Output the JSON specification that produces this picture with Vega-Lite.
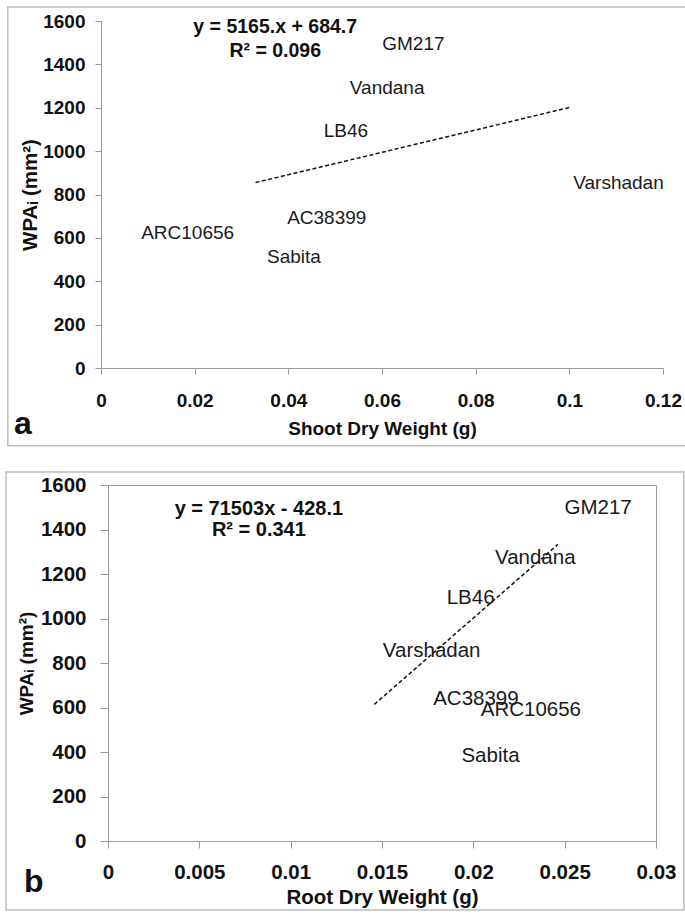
{
  "$schema": "https://vega.github.io/schema/vega-lite/v6.json",
  "background": "white",
  "padding": {"left": 4, "top": 6, "right": 2, "bottom": 2},
  "spacing": 117,
  "bounds": "flush",
  "center": true,
  "config": {
    "font": "Liberation Sans",
    "view": {"stroke": null},
    "axis": {
      "grid": false,
      "domainColor": "#9a9a9a",
      "tickColor": "#9a9a9a",
      "domainWidth": 1,
      "tickWidth": 1,
      "labelColor": "#111111",
      "titleColor": "#111111",
      "labelFont": "Liberation Sans",
      "titleFont": "Liberation Sans",
      "labelFontWeight": "bold",
      "titleFontWeight": "bold",
      "labelFlush": false,
      "labelOverlap": false
    }
  },
  "datasets": {
    "shootPts": [
      {"cultivar": "GM217", "dw": 0.0667, "wpa": 1496},
      {"cultivar": "Vandana", "dw": 0.0611, "wpa": 1291},
      {"cultivar": "LB46", "dw": 0.0523, "wpa": 1092},
      {"cultivar": "Varshadan", "dw": 0.1105, "wpa": 852},
      {"cultivar": "AC38399", "dw": 0.0482, "wpa": 690},
      {"cultivar": "ARC10656", "dw": 0.0185, "wpa": 624},
      {"cultivar": "Sabita", "dw": 0.0412, "wpa": 511}
    ],
    "shootTrend": [
      {"dw": 0.033, "wpa": 855},
      {"dw": 0.1, "wpa": 1201}
    ],
    "shootEq": [
      {"dw": 0.0372, "wpa": 1572, "text": "y = 5165.x + 684.7"},
      {"dw": 0.0372, "wpa": 1460, "text": "R² = 0.096"}
    ],
    "rootPts": [
      {"cultivar": "GM217", "dw": 0.02683, "wpa": 1495},
      {"cultivar": "Vandana", "dw": 0.02339, "wpa": 1274},
      {"cultivar": "LB46", "dw": 0.01985, "wpa": 1094},
      {"cultivar": "Varshadan", "dw": 0.01772, "wpa": 853},
      {"cultivar": "AC38399", "dw": 0.02014, "wpa": 638},
      {"cultivar": "ARC10656", "dw": 0.02315, "wpa": 590},
      {"cultivar": "Sabita", "dw": 0.02094, "wpa": 383}
    ],
    "rootTrend": [
      {"dw": 0.01458, "wpa": 614},
      {"dw": 0.02463, "wpa": 1333}
    ],
    "rootEq": [
      {"dw": 0.00826, "wpa": 1492, "text": "y = 71503x - 428.1"},
      {"dw": 0.00826, "wpa": 1398, "text": "R² = 0.341"}
    ]
  },
  "vconcat": [
    {
      "width": 562,
      "height": 347,
      "layer": [
        {
          "data": {"values": [{}]},
          "mark": {"type": "rect", "filled": false, "stroke": "#bdbdbd", "strokeWidth": 1.5, "clip": false},
          "encoding": {
            "x": {"datum": -0.0199, "type": "quantitative", "scale": {"domain": [0, 0.12], "nice": false}},
            "x2": {"datum": 0.1251},
            "y": {"datum": 1664, "type": "quantitative", "scale": {"domain": [0, 1600], "nice": false}},
            "y2": {"datum": -359}
          }
        },
        {
          "data": {"values": [{}]},
          "mark": {"type": "text", "text": "a", "fontSize": 32, "fontWeight": "bold", "align": "left", "baseline": "alphabetic", "color": "#111111", "clip": false},
          "encoding": {
            "x": {"datum": -0.0186, "type": "quantitative"},
            "y": {"datum": -304, "type": "quantitative"}
          }
        },
        {
          "data": {"name": "shootTrend"},
          "mark": {"type": "line", "color": "#111111", "strokeWidth": 1.5, "strokeDash": [4, 2.5]},
          "encoding": {
            "x": {"field": "dw", "type": "quantitative"},
            "y": {"field": "wpa", "type": "quantitative"}
          }
        },
        {
          "data": {"name": "shootEq"},
          "mark": {"type": "text", "fontSize": 19.5, "fontWeight": "bold", "color": "#111111", "align": "center", "baseline": "middle"},
          "encoding": {
            "x": {"field": "dw", "type": "quantitative"},
            "y": {"field": "wpa", "type": "quantitative"},
            "text": {"field": "text"}
          }
        },
        {
          "data": {"name": "shootPts"},
          "mark": {"type": "text", "fontSize": 19, "color": "#1a1a1a", "align": "center", "baseline": "middle"},
          "encoding": {
            "x": {
              "field": "dw", "type": "quantitative",
              "scale": {"domain": [0, 0.12], "nice": false},
              "axis": {"values": [0, 0.02, 0.04, 0.06, 0.08, 0.1, 0.12], "format": "~g", "title": "Shoot Dry Weight (g)", "labelFontSize": 19, "titleFontSize": 19, "tickSize": 6, "labelPadding": 17, "titlePadding": 9}
            },
            "y": {
              "field": "wpa", "type": "quantitative",
              "scale": {"domain": [0, 1600], "nice": false},
              "axis": {"values": [0, 200, 400, 600, 800, 1000, 1200, 1400, 1600], "format": "d", "title": "WPAᵢ (mm²)", "labelFontSize": 19, "titleFontSize": 20.5, "tickSize": 6, "labelPadding": 10, "titlePadding": 2}
            },
            "text": {"field": "cultivar"}
          }
        }
      ]
    },
    {
      "width": 548,
      "height": 356,
      "view": {"stroke": "#9a9a9a", "strokeWidth": 1},
      "layer": [
        {
          "data": {"values": [{}]},
          "mark": {"type": "rect", "filled": false, "stroke": "#bdbdbd", "strokeWidth": 1.5, "clip": false},
          "encoding": {
            "x": {"datum": -0.00558, "type": "quantitative", "scale": {"domain": [0, 0.03], "nice": false}},
            "x2": {"datum": 0.03153},
            "y": {"datum": 1658, "type": "quantitative", "scale": {"domain": [0, 1600], "nice": false}},
            "y2": {"datum": -310}
          }
        },
        {
          "data": {"values": [{}]},
          "mark": {"type": "text", "text": "b", "fontSize": 32, "fontWeight": "bold", "align": "left", "baseline": "alphabetic", "color": "#111111", "clip": false},
          "encoding": {
            "x": {"datum": -0.0046, "type": "quantitative"},
            "y": {"datum": -229, "type": "quantitative"}
          }
        },
        {
          "data": {"name": "rootTrend"},
          "mark": {"type": "line", "color": "#111111", "strokeWidth": 1.5, "strokeDash": [4, 2.5]},
          "encoding": {
            "x": {"field": "dw", "type": "quantitative"},
            "y": {"field": "wpa", "type": "quantitative"}
          }
        },
        {
          "data": {"name": "rootEq"},
          "mark": {"type": "text", "fontSize": 20, "fontWeight": "bold", "color": "#111111", "align": "center", "baseline": "middle"},
          "encoding": {
            "x": {"field": "dw", "type": "quantitative"},
            "y": {"field": "wpa", "type": "quantitative"},
            "text": {"field": "text"}
          }
        },
        {
          "data": {"name": "rootPts"},
          "mark": {"type": "text", "fontSize": 20.5, "color": "#1a1a1a", "align": "center", "baseline": "middle"},
          "encoding": {
            "x": {
              "field": "dw", "type": "quantitative",
              "scale": {"domain": [0, 0.03], "nice": false},
              "axis": {"values": [0, 0.005, 0.01, 0.015, 0.02, 0.025, 0.03], "format": "~g", "title": "Root Dry Weight (g)", "labelFontSize": 20.5, "titleFontSize": 20.5, "tickSize": 7, "labelPadding": 14, "titlePadding": 5}
            },
            "y": {
              "field": "wpa", "type": "quantitative",
              "scale": {"domain": [0, 1600], "nice": false},
              "axis": {"values": [0, 200, 400, 600, 800, 1000, 1200, 1400, 1600], "format": "d", "title": "WPAᵢ (mm²)", "labelFontSize": 20.5, "titleFontSize": 19, "tickSize": 8, "labelPadding": 14, "titlePadding": 4}
            },
            "text": {"field": "cultivar"}
          }
        }
      ]
    }
  ]
}
